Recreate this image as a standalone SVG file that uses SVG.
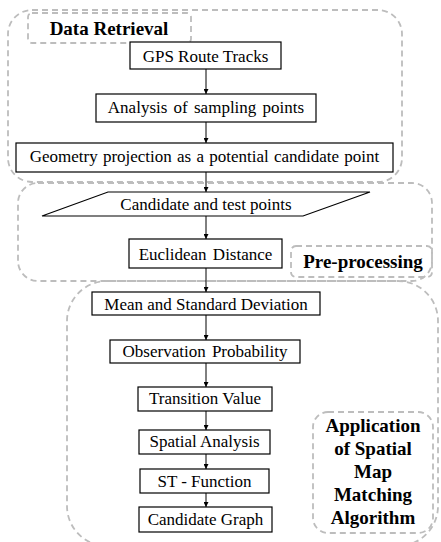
<svg xmlns="http://www.w3.org/2000/svg" width="441" height="542" viewBox="0 0 441 542">
<defs>
<marker id="ah" viewBox="0 0 10 10" refX="10" refY="5" markerWidth="5" markerHeight="5" orient="auto" markerUnits="userSpaceOnUse">
<path d="M0,0 L10,5 L0,10 z" fill="#000"/>
</marker>
<style>
.region{fill:none;stroke:#bdbdbd;stroke-width:1.8;stroke-dasharray:6 4}
.node{fill:#fff;stroke:#000;stroke-width:1.2}
.t{font-size:17px;fill:#000;text-anchor:middle}
.lb{font-size:19px;font-weight:bold;fill:#000;text-anchor:middle}
.conn{stroke:#000;stroke-width:1;fill:none;marker-end:url(#ah)}
</style>
</defs>
<rect width="441" height="542" fill="#fff"/>
<g id="regions">
<rect class="region" x="8" y="10" width="394" height="172" rx="24"/>
<rect class="region" x="18" y="183" width="414" height="98" rx="20"/>
<rect class="region" x="67" y="281" width="371" height="265" rx="40"/>
</g>
<g font-family="Liberation Serif, Times New Roman, serif">
<g id="label-data-retrieval">
<rect class="region" x="28" y="13" width="163" height="30" rx="4"/>
<text class="lb" x="109" y="35">Data Retrieval</text>
</g>
<g id="label-preprocessing">
<rect class="region" x="291" y="246" width="141" height="31" rx="5"/>
<text class="lb" x="363" y="268">Pre-processing</text>
</g>
<g id="label-application">
<rect class="region" x="313" y="412" width="120" height="121" rx="15"/>
<text class="lb" x="373" y="432">Application</text>
<text class="lb" x="373" y="455">of Spatial</text>
<text class="lb" x="373" y="478">Map</text>
<text class="lb" x="373" y="501">Matching</text>
<text class="lb" x="373" y="524">Algorithm</text>
</g>
<g id="connectors">
<line class="conn" x1="206" y1="69" x2="206" y2="94"/>
<line class="conn" x1="206" y1="122" x2="206" y2="143"/>
<line class="conn" x1="206" y1="172" x2="206" y2="192"/>
<line class="conn" x1="206" y1="216" x2="206" y2="239"/>
<line class="conn" x1="206" y1="268" x2="206" y2="292"/>
<line class="conn" x1="206" y1="315" x2="206" y2="340"/>
<line class="conn" x1="206" y1="363" x2="206" y2="387"/>
<line class="conn" x1="206" y1="411" x2="206" y2="430"/>
<line class="conn" x1="206" y1="454" x2="206" y2="469"/>
<line class="conn" x1="206" y1="493" x2="206" y2="507"/>
</g>
<g id="gps">
<rect class="node" x="130" y="42" width="151" height="27"/>
<text class="t" x="205.5" y="62">GPS Route Tracks</text>
</g>
<g id="analysis">
<rect class="node" x="96" y="94" width="220" height="28"/>
<text class="t" x="206" y="113" word-spacing="2">Analysis of sampling points</text>
</g>
<g id="geometry">
<rect class="node" x="16" y="143" width="377" height="29"/>
<text class="t" x="204.5" y="162" word-spacing="1">Geometry projection as a potential candidate point</text>
</g>
<g id="candidate-test">
<polygon class="node" points="108,192 370,192 303,216 42,216"/>
<text class="t" x="206" y="210">Candidate and test points</text>
</g>
<g id="euclidean">
<rect class="node" x="129" y="239" width="153" height="29"/>
<text class="t" x="205.5" y="260" word-spacing="2">Euclidean Distance</text>
</g>
<g id="mean">
<rect class="node" x="92" y="292" width="228" height="23"/>
<text class="t" x="206" y="310">Mean and Standard Deviation</text>
</g>
<g id="observation">
<rect class="node" x="110" y="340" width="190" height="23"/>
<text class="t" x="205" y="357" word-spacing="2">Observation Probability</text>
</g>
<g id="transition">
<rect class="node" x="138" y="387" width="134" height="24"/>
<text class="t" x="205" y="404">Transition Value</text>
</g>
<g id="spatial">
<rect class="node" x="139" y="430" width="131" height="24"/>
<text class="t" x="204.5" y="447">Spatial Analysis</text>
</g>
<g id="st-function">
<rect class="node" x="140" y="469" width="129" height="24"/>
<text class="t" x="204.5" y="487">ST - Function</text>
</g>
<g id="candidate-graph">
<rect class="node" x="139" y="507" width="133" height="25"/>
<text class="t" x="205.5" y="525">Candidate Graph</text>
</g>
</g>
</svg>
